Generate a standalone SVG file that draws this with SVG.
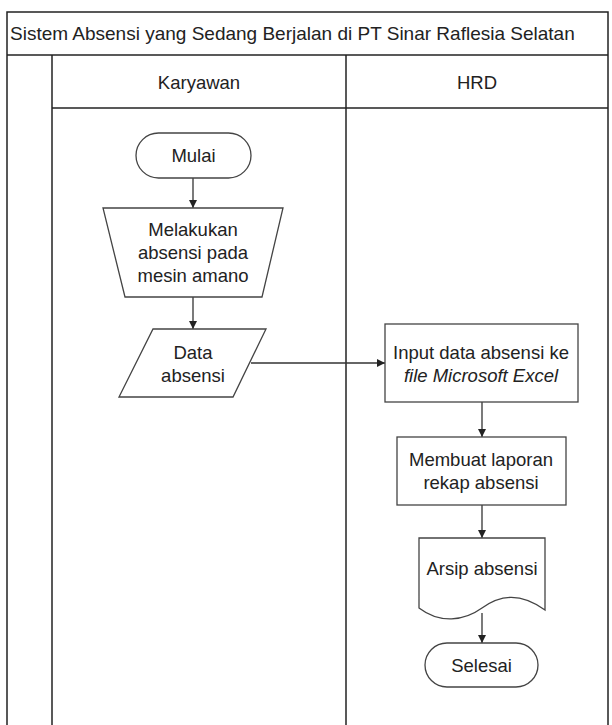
<svg xmlns="http://www.w3.org/2000/svg" width="612" height="725" viewBox="0 0 612 725">
<defs>
<marker id="arr" viewBox="0 0 10 10" refX="10" refY="5" markerWidth="8" markerHeight="8" markerUnits="userSpaceOnUse" orient="auto">
<path d="M0,0 L10,5 L0,10 Z" fill="#222"/>
</marker>
</defs>
<style>
.frame{fill:none;stroke:#222;stroke-width:1.5}
.shape{fill:#fff;stroke:#444;stroke-width:1.3}
.conn{fill:none;stroke:#333;stroke-width:1.3;marker-end:url(#arr)}
text{font-family:"Liberation Sans",Arial,sans-serif;font-size:18.5px;fill:#222}
.c{text-anchor:middle}
</style>
<rect width="612" height="725" fill="#fff"/>
<g id="pool">
<rect class="frame" x="7" y="12" width="601" height="720"/>
<line class="frame" x1="7" y1="55" x2="608" y2="55"/>
<line class="frame" x1="52" y1="108" x2="608" y2="108"/>
<line class="frame" x1="52" y1="55" x2="52" y2="725"/>
<line class="frame" x1="346" y1="55" x2="346" y2="725"/>
<text x="10" y="40" style="font-size:19px">Sistem Absensi yang Sedang Berjalan di PT Sinar Raflesia Selatan</text>
<text class="c" x="199" y="89">Karyawan</text>
<text class="c" x="477" y="89">HRD</text>
</g>
<g id="connectors">
<line class="conn" x1="193" y1="178" x2="193" y2="208"/>
<line class="conn" x1="193" y1="297" x2="193" y2="329"/>
<line class="conn" x1="251" y1="363" x2="385" y2="363"/>
<line class="conn" x1="482" y1="402" x2="482" y2="437"/>
<line class="conn" x1="482" y1="505" x2="482" y2="538"/>
<line class="conn" x1="482" y1="613" x2="482" y2="643"/>
</g>
<g id="mulai">
<rect class="shape" x="136" y="133" width="115" height="45" rx="22.5"/>
<text class="c" x="193.5" y="162">Mulai</text>
</g>
<g id="melakukan">
<polygon class="shape" points="103,208 283,208 262,297 125,297"/>
<text class="c" x="193" y="236">Melakukan</text>
<text class="c" x="193" y="259">absensi pada</text>
<text class="c" x="193" y="282">mesin amano</text>
</g>
<g id="data">
<polygon class="shape" points="153,329 266,329 233,397 119,397"/>
<text class="c" x="193" y="359">Data</text>
<text class="c" x="193" y="382">absensi</text>
</g>
<g id="input">
<rect class="shape" x="385" y="324" width="193" height="78"/>
<text class="c" x="481" y="359">Input data absensi ke</text>
<text class="c" x="481" y="382" font-style="italic">file Microsoft Excel</text>
</g>
<g id="membuat">
<rect class="shape" x="397" y="437" width="169" height="68"/>
<text class="c" x="481" y="466">Membuat laporan</text>
<text class="c" x="481" y="489">rekap absensi</text>
</g>
<g id="arsip">
<path class="shape" d="M419,538 L545,538 L545,610 C520,592 500,595 482,608 C464,621 440,624 419,608 Z"/>
<text class="c" x="482" y="575">Arsip absensi</text>
</g>
<g id="selesai">
<rect class="shape" x="425" y="643" width="113" height="44" rx="22"/>
<text class="c" x="481.5" y="672">Selesai</text>
</g>
</svg>
